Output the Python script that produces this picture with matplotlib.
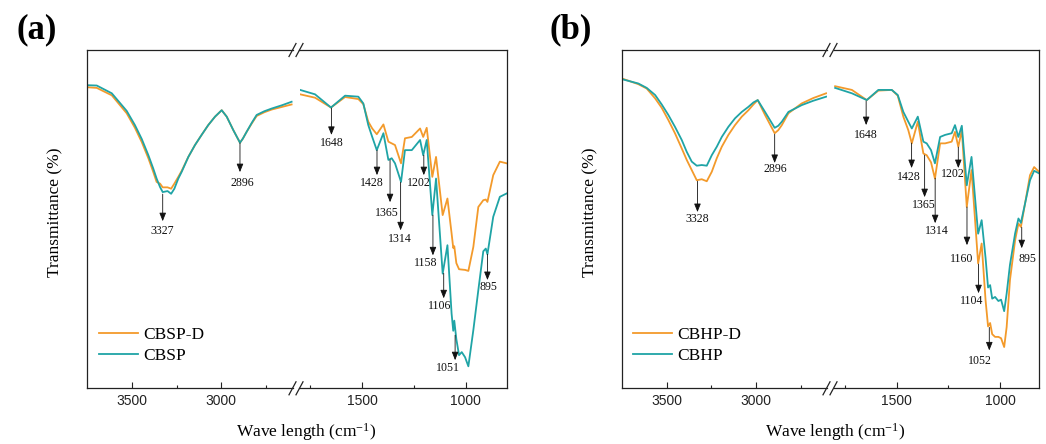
import matplotlib
matplotlib.use("Agg")
import matplotlib.pyplot as plt
from matplotlib.lines import Line2D

plt.rcParams["font.family"] = "Liberation Serif"
plt.rcParams["mathtext.fontset"] = "custom"
plt.rcParams["mathtext.rm"] = "Liberation Serif"
plt.rcParams["mathtext.it"] = "Liberation Serif:italic"

# ---- data (wavenumber in cm-1, transmittance in arbitrary %) ----
# panel (a), 3750-2600 region
wn_a_hi = [3750, 3695, 3611, 3528, 3482, 3444, 3407, 3380, 3361, 3342, 3327, 3300,
           3280, 3262, 3240, 3221, 3184, 3147, 3110, 3073, 3035, 2998, 2970, 2933,
           2896, 2880, 2859, 2830, 2803, 2760, 2719, 2660, 2608]
cbsp_hi = [89.6, 89.5, 87.2, 82.0, 77.8, 73.7, 68.9, 65.0, 62.0, 59.5, 58.0, 58.3,
           57.5, 59.0, 62.0, 64.0, 68.4, 71.9, 74.9, 77.8, 80.3, 82.2, 80.3, 76.3,
           72.6, 73.8, 75.8, 78.5, 80.8, 81.9, 82.7, 83.7, 84.7]
cbspd_hi = [89.0, 88.8, 86.6, 81.3, 77.0, 72.8, 68.0, 64.0, 61.0, 60.5, 59.4, 59.4,
            59.0, 60.5, 62.5, 64.3, 68.4, 71.9, 74.9, 77.8, 80.3, 82.2, 80.3, 76.3,
            72.6, 73.8, 75.8, 78.3, 80.5, 81.6, 82.4, 83.2, 83.9]

# panel (a), 1800-800 region
wn_a_lo = [1799, 1727, 1650, 1582, 1518, 1494, 1470, 1451, 1429, 1397, 1373, 1357,
           1341, 1312, 1293, 1260, 1220, 1205, 1188, 1161, 1143, 1111, 1088, 1068,
           1060, 1055, 1045, 1032, 1019, 1003, 987, 963, 939, 915, 903, 895, 867, 835, 802]
cbsp_lo = [88.2, 86.9, 83.0, 86.5, 86.2, 84.2, 77.8, 74.3, 70.4, 75.4, 67.5, 68.0,
           66.5, 61.0, 70.4, 70.4, 73.4, 68.9, 73.4, 51.2, 62.0, 33.9, 42.3, 22.1,
           17.0, 20.0, 14.5, 9.8, 10.7, 9.2, 6.5, 17.2, 29.0, 40.5, 41.3, 39.6, 50.7, 56.6, 57.6]
cbspd_lo = [86.9, 85.9, 83.0, 86.1, 85.5, 84.0, 78.8, 76.8, 75.1, 78.0, 72.9, 72.4,
            71.9, 66.5, 73.9, 74.3, 76.8, 74.3, 77.0, 62.5, 68.4, 51.2, 56.1, 45.8,
            41.5, 42.0, 37.0, 35.2, 35.1, 35.0, 34.7, 41.8, 53.6, 55.6, 55.8, 55.1, 63.0, 67.0, 66.5]

# panel (b), 3750-2600 region
wn_b_hi = [3752, 3659, 3612, 3565, 3528, 3491, 3454, 3416, 3388, 3360, 3332, 3304,
           3276, 3248, 3220, 3192, 3155, 3118, 3080, 3043, 3015, 2991, 2950, 2896,
           2876, 2856, 2819, 2745, 2680, 2608]
cbhp_hi = [91.4, 90.1, 88.8, 86.7, 83.9, 80.8, 77.3, 73.4, 69.9, 67.0, 65.8, 66.0,
           65.8, 68.9, 71.4, 74.3, 77.3, 79.8, 81.7, 83.2, 84.5, 85.2, 81.7, 77.0,
           77.6, 78.8, 81.7, 83.7, 85.0, 86.2]
cbhpd_hi = [91.6, 89.9, 88.6, 85.7, 82.9, 79.3, 75.4, 70.9, 67.5, 64.5, 61.5, 61.8,
            61.2, 64.0, 68.0, 71.4, 74.9, 77.8, 80.3, 82.2, 83.9, 85.2, 80.8, 75.4,
            76.3, 77.8, 81.3, 84.2, 85.8, 87.2]

# panel (b), 1800-800 region
wn_b_lo = [1798, 1717, 1645, 1589, 1524, 1495, 1468, 1444, 1427, 1398, 1371, 1355,
           1334, 1315, 1290, 1266, 1234, 1218, 1202, 1185, 1161, 1138, 1106, 1089,
           1070, 1058, 1048, 1038, 1024, 1008, 995, 980, 968, 952, 927, 911, 899,
           879, 855, 835, 810]
cbhp_lo = [88.8, 87.2, 85.2, 88.2, 88.2, 86.7, 81.7, 78.8, 76.8, 80.3, 72.9, 72.4,
           70.4, 66.5, 74.3, 74.9, 75.4, 77.8, 74.3, 77.6, 60.0, 68.4, 45.7, 49.7,
           38.5, 29.8, 30.5, 26.5, 27.0, 25.8, 26.2, 22.8, 28.0, 36.5, 45.8, 50.2, 48.9,
           54.6, 61.5, 64.3, 63.5]
cbhpd_lo = [89.3, 88.2, 85.2, 88.0, 88.2, 86.5, 80.3, 76.3, 72.4, 78.8, 69.4, 68.9,
            66.8, 62.0, 72.4, 72.4, 72.9, 75.8, 71.4, 76.3, 53.6, 64.5, 36.9, 42.8,
            26.0, 18.3, 19.3, 16.0, 15.2, 15.2, 14.8, 12.2, 18.1, 32.0, 43.8, 48.7, 47.7,
            54.6, 63.0, 65.4, 63.9]

# peak annotations: label, arrow top, arrow tip, label height, label shift (px)
peaks_a = [3327, 2896, 1648, 1428, 1365, 1314, 1202, 1158, 1106, 1051, 895]
arrow_top_a = [57.4, 72.5, 82.8, 70.4, 67.5, 60.9, 68.9, 51.2, 34.0, 15.7, 39.6]
arrow_tip_a = [49.4, 63.9, 74.9, 63.0, 55.0, 46.7, 63.0, 39.3, 26.6, 8.3, 32.0]
label_y_a = [46.4, 60.7, 72.5, 60.7, 51.8, 44.1, 60.7, 37.0, 24.3, 6.1, 29.9]
label_dx_a = [0, 2, 0, -5, -3, -1, -5, -7, -4, -7, 1]

peaks_b = [3328, 2896, 1648, 1428, 1365, 1314, 1202, 1160, 1104, 1052, 895]
arrow_top_b = [61.2, 75.1, 84.9, 72.5, 68.9, 62.1, 71.3, 53.6, 36.7, 18.0, 47.6]
arrow_tip_b = [52.1, 66.6, 77.8, 65.1, 56.5, 48.8, 65.1, 42.3, 28.1, 11.2, 41.4]
label_y_b = [50.0, 64.8, 74.9, 62.5, 54.1, 46.4, 63.3, 38.1, 25.8, 8.1, 38.1]
label_dx_b = [0, 1, 0, -3, -1, 2, -5, -5, -7, -9, 6]

ORANGE = "#F39A2B"
TEAL = "#1FA4A6"
W, H = 1046, 444
fig = plt.figure(figsize=(W / 100, H / 100), dpi=100)


def box(l, r, t, b):
    return [l / W, 1 - b / H, (r - l) / W, (b - t) / H]


def slash(cx, cy):
    fig.add_artist(Line2D([(cx - 3.5) / W, (cx + 3.5) / W],
                          [1 - (cy + 6.5) / H, 1 - (cy - 6.5) / H],
                          transform=fig.transFigure, color="#222222", lw=0.9))


def panel(frame, xl_hi, xl_lo, hi, lo, names, peaks, tops, tips, laby, labdx,
          legend_xy, tag, tag_x, xlab_x, ylab_x):
    left, gap_l, gap_r, right, top, bottom = frame
    ax_hi = fig.add_axes(box(left, gap_l, top, bottom))
    ax_lo = fig.add_axes(box(gap_r, right, top, bottom))
    for ax, xl in ((ax_hi, xl_hi), (ax_lo, xl_lo)):
        ax.set_xlim(*xl)
        ax.set_ylim(0, 100)
        ax.set_yticks([])
        for s in ax.spines.values():
            s.set_linewidth(0.9)
            s.set_color("#222222")
        ax.tick_params(axis="x", which="both", direction="in", width=0.8, pad=4,
                       colors="#222222")
        ax.tick_params(axis="x", which="major", length=4.3)
        ax.tick_params(axis="x", which="minor", length=2.5)
    ax_hi.spines["right"].set_visible(False)
    ax_lo.spines["left"].set_visible(False)
    ax_hi.set_xticks([3500, 3000])
    ax_hi.set_xticklabels(["3500", "3000"], fontfamily="Liberation Sans", fontsize=10)
    ax_hi.set_xticks([3250, 2750], minor=True)
    ax_lo.set_xticks([1500, 1000])
    ax_lo.set_xticklabels(["1500", "1000"], fontfamily="Liberation Sans", fontsize=10)
    ax_lo.set_xticks([1750, 1250], minor=True)

    (wh, d_hi, s_hi), (wl, d_lo, s_lo) = hi, lo
    l1, = ax_hi.plot(wh, d_hi, color=ORANGE, lw=1.3)
    l2, = ax_hi.plot(wh, s_hi, color=TEAL, lw=1.3)
    ax_lo.plot(wl, d_lo, color=ORANGE, lw=1.3)
    ax_lo.plot(wl, s_lo, color=TEAL, lw=1.3)

    for p, t0, t1, ly, dx in zip(peaks, tops, tips, laby, labdx):
        ax = ax_hi if p > 2000 else ax_lo
        ax.annotate("", xy=(p, t1), xytext=(p, t0),
                    arrowprops=dict(arrowstyle="-|>,head_length=0.5,head_width=0.2",
                                    color="#111111", lw=0.6, mutation_scale=10,
                                    shrinkA=0, shrinkB=0))
        ax.annotate(str(p), xy=(p, ly), xytext=(dx * 0.72, 0), textcoords="offset points",
                    ha="center", va="center", fontsize=8.6, color="#111111")

    ax_hi.legend([l1, l2], names, loc="upper left",
                 bbox_to_anchor=(legend_xy[0] / W, 1 - legend_xy[1] / H),
                 bbox_transform=fig.transFigure, frameon=False, fontsize=12.5,
                 handlelength=2.25, handletextpad=0.3, labelspacing=0.25,
                 borderpad=0, borderaxespad=0)

    for cx in (gap_l, gap_r):
        slash(cx, top)
        slash(cx, bottom)

    fig.text(tag_x / W, 1 - 30 / H, tag, ha="center", va="center",
             fontsize=25, fontweight="bold")
    fig.text(xlab_x / W, 1 - 432 / H, "Wave length (cm$^{-1}$)", ha="center",
             va="center", fontsize=12.5)
    fig.text(ylab_x / W, 1 - 212 / H, "Transmittance (%)", ha="center",
             va="center", rotation=90, fontsize=12.5)


panel((86.7, 292.5, 299.5, 506.7, 50, 388.3), (3751, 2603), (1802, 802),
      (wn_a_hi, cbspd_hi, cbsp_hi), (wn_a_lo, cbspd_lo, cbsp_lo),
      ["CBSP-D", "CBSP"], peaks_a, arrow_top_a, arrow_tip_a, label_y_a, label_dx_a,
      (99, 327), "(a)", 36.5, 306, 55.5)

panel((621.7, 826.5, 833.5, 1039.3, 50, 388.3), (3752, 2606), (1806, 810),
      (wn_b_hi, cbhpd_hi, cbhp_hi), (wn_b_lo, cbhpd_lo, cbhp_lo),
      ["CBHP-D", "CBHP"], peaks_b, arrow_top_b, arrow_tip_b, label_y_b, label_dx_b,
      (633, 327), "(b)", 571, 835, 590)

fig.savefig("out.png", dpi=100)
